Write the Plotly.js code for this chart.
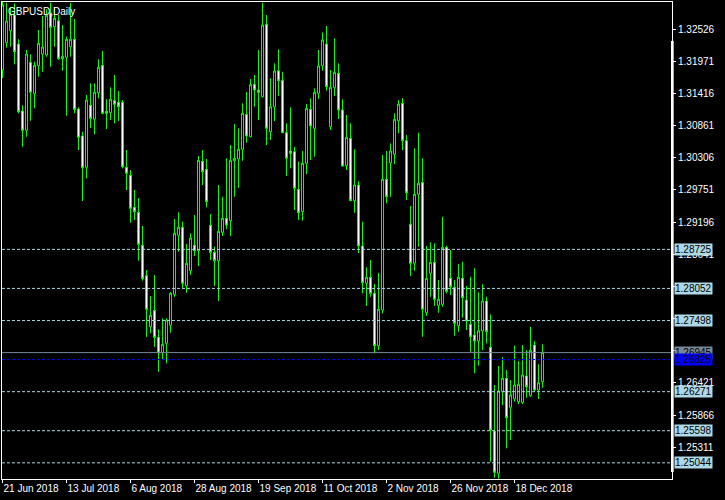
<!DOCTYPE html>
<html>
<head>
<meta charset="utf-8">
<script src="https://cdn.plot.ly/plotly-3.0.1.min.js"></script>
<style>
html,body{margin:0;padding:0;background:#000;}
#chart{width:725px;height:500px;}
</style>
</head>
<body>
<div id="chart"></div>
<script>
const symbolTitle = "GBPUSD,Daily";

const openP = [1.31819,1.32289,1.32497,1.32768,1.32267,1.31112,1.30779,1.31951,1.31410,1.31893,
1.32095,1.32078,1.32807,1.32565,1.32669,1.32014,1.32038,1.32220,1.32349,1.31146,
1.30681,1.30140,1.31210,1.30969,1.31427,1.31900,1.31107,1.31082,1.31289,1.31261,
1.31261,1.30140,1.30003,1.29451,1.29364,1.28796,1.28271,1.27391,1.27674,1.27208,
1.26942,1.27105,1.27416,1.27950,1.28968,1.29106,1.28099,1.28357,1.28796,1.28702,
1.30244,1.30106,1.29141,1.28674,1.28530,1.29019,1.29261,1.29220,1.30254,1.30284,
1.30451,1.31055,1.30668,1.31572,1.31474,1.31358,1.32607,1.30755,1.31185,1.31807,
1.31641,1.30737,1.30422,1.30410,1.29761,1.29375,1.30209,1.31141,1.30813,1.31417,
1.31893,1.32267,1.30840,1.31513,1.31762,1.31129,1.30168,1.30641,1.29565,1.29835,
1.28784,1.28140,1.28243,1.27967,1.27064,1.27679,1.29934,1.30219,1.30365,1.30944,
1.31244,1.30599,1.29158,1.28485,1.29675,1.29881,1.27632,1.28312,1.28502,1.27761,
1.27778,1.28761,1.28226,1.28071,1.27409,1.28226,1.27852,1.27433,1.27248,1.27145,
1.27317,1.27835,1.27036,1.25593,1.24863,1.26270,1.26501,1.26001,1.26144,1.26098,
1.26087,1.26541,1.26201,1.27075,1.26299,1.26443];

const highP = [1.32992,1.32979,1.32900,1.32969,1.32349,1.31210,1.32164,1.32090,1.31962,1.32509,
1.32751,1.32866,1.32979,1.32883,1.32768,1.32595,1.32393,1.32974,1.32699,1.31175,
1.30755,1.31388,1.31589,1.31589,1.32004,1.32147,1.31314,1.31520,1.31733,1.31457,
1.31301,1.30439,1.30094,1.29749,1.29611,1.29129,1.28369,1.27921,1.28283,1.27347,
1.27536,1.27536,1.27984,1.29249,1.29364,1.29203,1.28818,1.29002,1.29318,1.30336,
1.30439,1.30284,1.29335,1.28771,1.29835,1.29633,1.30296,1.30525,1.30887,1.30813,
1.31244,1.31440,1.31664,1.31733,1.32164,1.32979,1.32768,1.31676,1.31934,1.32176,
1.31790,1.30899,1.31175,1.30495,1.30237,1.30422,1.31232,1.31331,1.31503,1.32164,
1.32469,1.32578,1.31819,1.32366,1.31934,1.31314,1.31043,1.30899,1.30451,1.29904,
1.29203,1.28416,1.28542,1.28128,1.28322,1.30353,1.30422,1.30554,1.31072,1.31301,
1.31336,1.30698,1.29474,1.30468,1.30737,1.30296,1.28784,1.28847,1.28830,1.28197,
1.29288,1.28789,1.28714,1.28197,1.28473,1.28513,1.28094,1.28253,1.28399,1.27984,
1.28123,1.27908,1.27605,1.26386,1.26714,1.26863,1.26644,1.26472,1.27064,1.26800,
1.27075,1.26989,1.27391,1.27145,1.26743,1.27088];

const lowP = [1.31681,1.32203,1.32220,1.31917,1.31072,1.30495,1.30668,1.30944,1.31158,1.31703,
1.31790,1.32048,1.31875,1.32220,1.31991,1.31807,1.31031,1.32048,1.31072,1.30439,
1.29560,1.29951,1.30818,1.30710,1.31331,1.31055,1.30801,1.30956,1.30899,1.30939,
1.30123,1.29749,1.29185,1.29232,1.28530,1.28185,1.27218,1.27277,1.27046,1.26615,
1.26817,1.26760,1.27287,1.27908,1.28685,1.28054,1.27977,1.28283,1.28611,1.28439,
1.29835,1.29451,1.28542,1.28094,1.27835,1.28956,1.29072,1.28956,1.29633,1.29788,
1.30254,1.30564,1.30658,1.31185,1.30956,1.31348,1.30525,1.30611,1.30939,1.31371,
1.30732,1.29991,1.30123,1.29404,1.29232,1.29220,1.30025,1.30266,1.30323,1.31319,
1.31807,1.31462,1.30784,1.31371,1.30974,1.30150,1.30094,1.29560,1.29357,1.28662,
1.27967,1.27749,1.27908,1.26932,1.26989,1.27622,1.29520,1.29633,1.30197,1.30727,
1.30439,1.29577,1.28266,1.28357,1.28771,1.27218,1.27576,1.27908,1.27749,1.27632,
1.27736,1.27967,1.27938,1.27236,1.27305,1.27546,1.27334,1.26960,1.26587,1.26719,
1.26989,1.27105,1.25063,1.24787,1.24770,1.26041,1.25294,1.25437,1.26098,1.26058,
1.26058,1.26166,1.26184,1.26282,1.26144,1.26339];

const closeP = [1.32940,1.32664,1.32780,1.32135,1.31100,1.30779,1.32095,1.31434,1.31900,1.32279,
1.32215,1.32763,1.32555,1.32711,1.32014,1.32055,1.32349,1.32349,1.31141,1.30658,
1.30133,1.31301,1.30982,1.31434,1.31865,1.31072,1.31072,1.31314,1.31227,1.31185,
1.30150,1.30037,1.29434,1.29375,1.28813,1.28219,1.27692,1.27588,1.27208,1.26942,
1.27088,1.27507,1.27967,1.29002,1.29106,1.28140,1.28485,1.28921,1.28702,1.30261,
1.30065,1.29548,1.28674,1.28530,1.29037,1.29261,1.29146,1.30261,1.30296,1.30451,
1.31072,1.30681,1.31565,1.31474,1.31434,1.32595,1.30813,1.31185,1.31802,1.31634,
1.30737,1.30296,1.30382,1.29778,1.29357,1.30209,1.31158,1.30853,1.31434,1.31888,
1.32336,1.31530,1.31520,1.31779,1.31129,1.30163,1.30658,1.29565,1.29835,1.28784,
1.28150,1.28243,1.27967,1.27064,1.27692,1.29934,1.29633,1.30422,1.30969,1.31232,
1.30599,1.29702,1.28485,1.29675,1.29864,1.27692,1.28226,1.28502,1.27864,1.27864,
1.28761,1.28002,1.28081,1.27450,1.28243,1.27891,1.27490,1.27218,1.27145,1.27322,
1.27835,1.27305,1.25610,1.24880,1.26282,1.26501,1.25821,1.26213,1.26386,1.26398,
1.26558,1.26356,1.26984,1.26299,1.26425,1.26945];

const dateTickIdx = [0,16,32,48,64,80,96,112,128];
const dateLabels = ["21 Jun 2018","13 Jul 2018","6 Aug 2018","28 Aug 2018","19 Sep 2018","11 Oct 2018","2 Nov 2018","26 Nov 2018","18 Dec 2018"];

const priceTicks = [1.32526,1.31971,1.31416,1.30861,1.30306,1.29751,1.29196,1.28641,1.28086,1.27531,1.26976,1.26421,1.25866,1.25311];
// scale labels that sit completely behind a price box in the reference are not shown
const hiddenTicks = [1.28086,1.27531,1.26976];

const levelPrices = [1.28725,1.28052,1.27498,1.26271,1.25598,1.25044];
const bidPrice = 1.26945;
const bluePrice = 1.26825;

const barIdx = openP.map((_, i) => i);

const FONT = '"Liberation Sans", Arial, sans-serif';
const GREEN = '#00ff00';
const LEVEL_COLOR = '#add8e6';
const BID_COLOR = '#778899';
const BLUE_COLOR = '#0000ff';

const trace = {
  type: 'candlestick',
  x: barIdx,
  open: openP, high: highP, low: lowP, close: closeP,
  increasing: {line: {color: GREEN, width: 1}, fillcolor: '#000000'},
  decreasing: {line: {color: GREEN, width: 1}, fillcolor: '#ffffff'},
  whiskerwidth: 0,
  hoverinfo: 'skip',
  showlegend: false
};

const shapes = [];
const annotations = [];

levelPrices.forEach(p => {
  shapes.push({type:'line', xref:'paper', yref:'y', x0:0, x1:1, y0:p, y1:p,
    line:{color:LEVEL_COLOR, width:1, dash:'3px,2px'}, layer:'above'});
});
shapes.push({type:'line', xref:'paper', yref:'y', x0:0, x1:1, y0:bidPrice, y1:bidPrice,
  line:{color:BID_COLOR, width:1}, layer:'above'});
shapes.push({type:'line', xref:'paper', yref:'y', x0:0, x1:1, y0:bluePrice, y1:bluePrice,
  line:{color:BLUE_COLOR, width:1, dash:'3px,2px'}, layer:'above'});
// thick right-edge bar of the price scale
shapes.push({type:'rect', xref:'paper', yref:'paper', x0:0.9985, x1:1.0025, y0:0.0147, y1:0.918,
  fillcolor:'#ffffff', line:{width:0}, layer:'above'});

function priceBox(p, bg, fg) {
  return {xref:'paper', yref:'y', x:1, y:p, xanchor:'left', yanchor:'middle', xshift:2,
    text:p.toFixed(5), showarrow:false, bgcolor:bg, borderpad:0,
    font:{family:FONT, size:10, color:fg}};
}
levelPrices.forEach(p => annotations.push(priceBox(p, LEVEL_COLOR, '#000000')));
annotations.push(priceBox(bidPrice, BID_COLOR, '#000000'));
annotations.push(priceBox(bluePrice, BLUE_COLOR, '#000000'));

annotations.push({xref:'paper', yref:'paper', x:0, y:1, xanchor:'left', yanchor:'top',
  xshift:4, yshift:-2, text:symbolTitle, showarrow:false,
  font:{family:FONT, size:10, color:'#ffffff'}});

const layout = {
  width: 725, height: 500,
  margin: {l:2, r:53, t:2, b:21, pad:0},
  paper_bgcolor: '#000000', plot_bgcolor: '#000000',
  boxgap: 0.5, boxgroupgap: 0,
  showlegend: false,
  xaxis: {
    type: 'linear', range: [-0.125, 167.375], fixedrange: true,
    rangeslider: {visible: false},
    showgrid: false, zeroline: false,
    showline: true, mirror: true, linecolor: '#ffffff', linewidth: 1,
    tickmode: 'array', tickvals: dateTickIdx, ticktext: dateLabels,
    ticks: 'outside', ticklen: 3, tickcolor: '#ffffff', tickwidth: 1,
    tickangle: 0,
    ticklabelposition: 'outside right',
    tickfont: {family: FONT, size: 10, color: '#ffffff'}
  },
  yaxis: {
    side: 'right', range: [1.24765, 1.32992], fixedrange: true,
    showgrid: false, zeroline: false,
    showline: true, mirror: true, linecolor: '#ffffff', linewidth: 1,
    tickmode: 'array', tickvals: priceTicks,
    ticktext: priceTicks.map(v => hiddenTicks.includes(v) ? '' : v.toFixed(5)),
    ticks: 'outside', ticklen: 3, tickcolor: '#ffffff', tickwidth: 1,
    tickfont: {family: FONT, size: 10, color: '#ffffff'}
  },
  shapes: shapes,
  annotations: annotations
};

Plotly.newPlot('chart', [trace], layout, {staticPlot: true, displayModeBar: false});
</script>
</body>
</html>
